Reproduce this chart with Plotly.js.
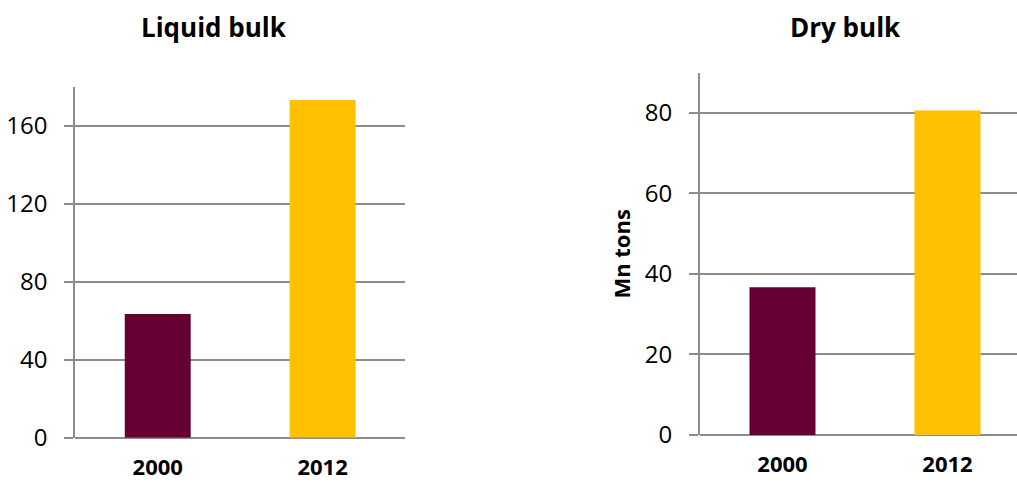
<!DOCTYPE html>
<html>
<head>
<meta charset="utf-8">
<script src="https://cdn.plot.ly/plotly-3.0.1.min.js"></script>
<style>
html,body{margin:0;padding:0;overflow:hidden;background:#fff;}
#chart{width:1040px;height:484px;}
</style>
</head>
<body>
<div id="chart"></div>
<script>
const years = ["2000", "2012"];
const liquidBulk = [63.4, 173.2];
const dryBulk = [36.7, 80.6];
const barColors = ["#660033", "#FFC000"];
const titles = ["Liquid bulk", "Dry bulk"];
const yTitle = "Mn tons";

const FONT = "Open Sans, Noto Sans, sans-serif";
const GRID = "#8c8c8c";

const traces = [
  {type: "bar", x: years, y: liquidBulk, marker: {color: barColors}, xaxis: "x", yaxis: "y", hoverinfo: "x+y"},
  {type: "bar", x: years, y: dryBulk, marker: {color: barColors}, xaxis: "x2", yaxis: "y2", hoverinfo: "x+y"}
];

const W = 1030;
function xax(d0, d1, anchor) {
  return {
    domain: [d0 / W, d1 / W], anchor: anchor, type: "category",
    showline: false, showgrid: false, zeroline: false, ticks: "",
    ticklabelstandoff: 14,
    tickfont: {family: FONT, size: 22, color: "#000", weight: "bold"},
    fixedrange: true
  };
}
function yax(d0, d1, anchor, range, dtick) {
  return {
    domain: [d0, d1], anchor: anchor, range: range, dtick: dtick,
    showline: true, linecolor: GRID, linewidth: 2,
    showgrid: true, gridcolor: GRID, gridwidth: 2,
    zeroline: true, zerolinecolor: GRID, zerolinewidth: 2,
    ticks: "outside", ticklen: 9, tickwidth: 2, tickcolor: GRID,
    ticklabelstandoff: 12,
    tickfont: {family: FONT, size: 24, color: "#000"},
    fixedrange: true
  };
}

const yLeft = yax((484 - 437.7) / 484, (484 - 86.7) / 484, "x", [0, 180], 40);
const yRight = yax((484 - 435) / 484, (484 - 72.7) / 484, "x2", [0, 90], 20);
yRight.title = {text: yTitle, font: {family: FONT, size: 22, color: "#000", weight: "bold"}, standoff: 8};

const layout = {
  width: 1040, height: 484,
  margin: {l: 0, r: 10, t: 0, b: 0},
  paper_bgcolor: "#fff", plot_bgcolor: "#fff",
  showlegend: false, bargap: 0.6,
  xaxis: xax(75.3, 405, "y"),
  yaxis: yLeft,
  xaxis2: xax(700, 1030, "y2"),
  yaxis2: yRight,
  annotations: [
    {text: titles[0], x: 216 / 1040, y: 1 - 27 / 484, xref: "paper", yref: "paper", xanchor: "center", yanchor: "middle", showarrow: false,
     font: {family: FONT, size: 26, color: "#000", weight: "bold"}},
    {text: titles[1], x: 854 / 1040, y: 1 - 27 / 484, xref: "paper", yref: "paper", xanchor: "center", yanchor: "middle", showarrow: false,
     font: {family: FONT, size: 26, color: "#000", weight: "bold"}}
  ]
};

Plotly.newPlot("chart", traces, layout, {displayModeBar: false, staticPlot: true});
</script>
</body>
</html>
